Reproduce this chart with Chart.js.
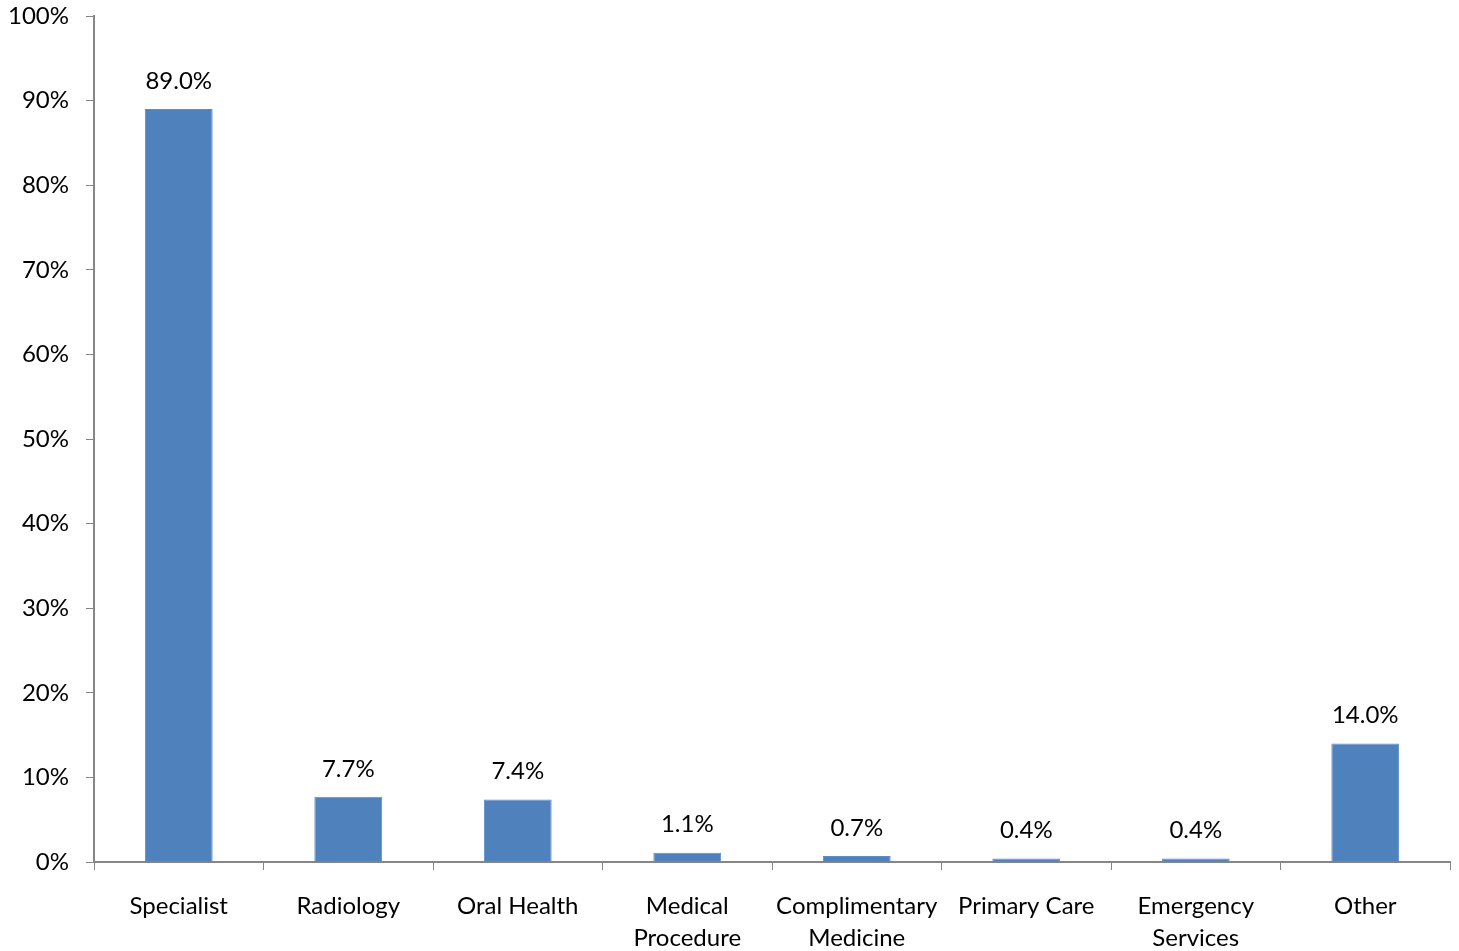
<!DOCTYPE html>
<html>
<head>
<meta charset="utf-8">
<script src="https://cdn.jsdelivr.net/npm/chart.js@4/dist/chart.umd.min.js"></script>
<style>
  html, body { margin: 0; padding: 0; background: #fff; overflow: hidden; }
  #wrap { width: 1459px; height: 951px; position: relative; }
</style>
</head>
<body>
<div id="wrap"><canvas id="chartUse"></canvas></div>
<script>
// categorias e percentuais (cada barra e o rotulo acima vem daqui)
const categories = ['Specialist', 'Radiology', 'Oral Health', ['Medical', 'Procedure'], ['Complimentary', 'Medicine'], 'Primary Care', ['Emergency', 'Services'], 'Other'];
const shares = [89.0, 7.7, 7.4, 1.1, 0.7, 0.4, 0.4, 14.0];
const yTicks = [0, 10, 20, 30, 40, 50, 60, 70, 80, 90, 100];

const FONT = 'Lato, "Open Sans", sans-serif';
const AXIS = '#868686';

// rotulo de valor em cima de cada barra
const valueLabels = {
  id: 'valueLabels',
  afterDatasetsDraw(chart) {
    const { ctx } = chart;
    const meta = chart.getDatasetMeta(0);
    ctx.save();
    ctx.font = `24px ${FONT}`;
    ctx.fillStyle = '#000';
    ctx.textAlign = 'center';
    ctx.textBaseline = 'middle';
    meta.data.forEach((bar, i) => {
      ctx.fillText(shares[i].toFixed(1) + '%', bar.x, bar.y - 28);
    });
    ctx.restore();
  },
};

window._useChart = new Chart(document.getElementById('chartUse'), {
  type: 'bar',
  data: {
    labels: categories,
    datasets: [{
      data: shares,
      backgroundColor: '#4f81bd',
      borderColor: '#5b8cc6',
      borderWidth: 1,
      categoryPercentage: 1,
      barPercentage: 0.4,
    }],
  },
  options: {
    responsive: true,
    maintainAspectRatio: false,
    animation: false,
    layout: { padding: { top: 16, right: 9, left: 0, bottom: 0 } },
    plugins: { legend: { display: false }, tooltip: { enabled: false } },
    scales: {
      x: {
        grid: { display: true, drawOnChartArea: false, color: AXIS, tickLength: 8, offset: true },
        border: { color: AXIS, width: 2 },
        ticks: { color: '#000', font: { family: FONT, size: 24, lineHeight: 1.34 }, padding: 20, maxRotation: 0, autoSkip: false },
        afterFit: (s) => { s.height = 89; s.paddingLeft = 0; s.paddingRight = 0; },
      },
      y: {
        min: 0,
        max: 100,
        afterBuildTicks: (s) => { s.ticks = yTicks.map((v) => ({ value: v })); },
        grid: { display: true, drawOnChartArea: false, color: AXIS, tickLength: 8 },
        border: { color: AXIS, width: 2 },
        ticks: { color: '#000', font: { family: FONT, size: 24 }, padding: 17, callback: (v) => v + '%' },
        afterFit: (s) => { s.width = 94; s.paddingTop = 0; s.paddingBottom = 0; },
      },
    },
  },
  plugins: [valueLabels],
});
</script>
</body>
</html>
